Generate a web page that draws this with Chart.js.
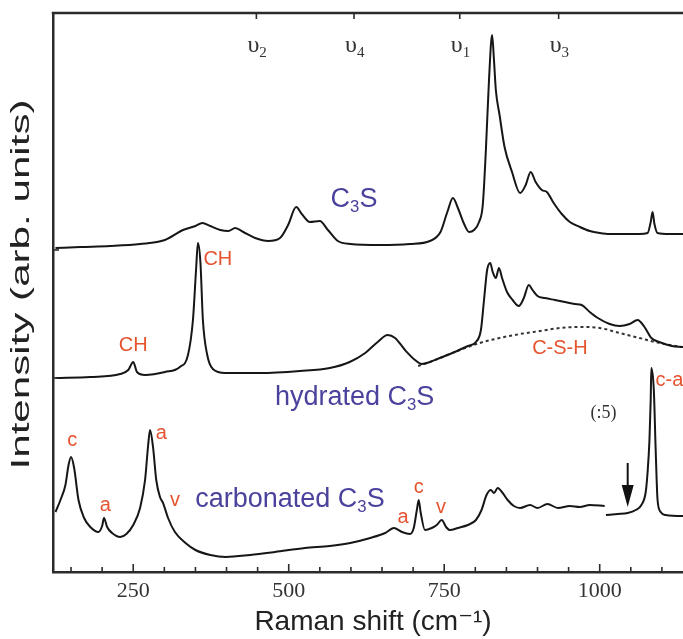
<!DOCTYPE html>
<html>
<head>
<meta charset="utf-8">
<script src="https://cdn.jsdelivr.net/npm/chart.js@4.4.1/dist/chart.umd.min.js"></script>
<style>
  html, body { margin: 0; padding: 0; background: #fff; overflow: hidden; }
  #wrap { width: 700px; height: 639px; }
</style>
</head>
<body>
<div id="wrap"><canvas id="raman" width="700" height="639"></canvas></div>
<script>
// Raman spectra of C3S, hydrated C3S and carbonated C3S (curves offset vertically)
const c3sShift = [125,165,213,261,301,330,350,361,374,390,403,414,427,446,467,486,499,512,521,534,550,563,579,599,647,695,727,744,755,764,772,782,790,798,806,812,817,822,827,830,833,839,847,859,872,881,889,897,907,915,926,939,952,968,984,1000,1016,1064,1077,1082,1085,1088,1093,1112,1150];
const c3sIntensity = [324,325,326,328,332,342,346,349,346,342,341,344,340,334,331,334,347,365,358,350,351,342,331,328,327,328,331,340,360,374,364,348,340,342,350,367,422,492,537,512,482,457,425,400,379,387,400,390,382,380,369,358,350,345,341,339,338,338,339,350,360,348,339,338,338];

const hydratedShift = [125,181,229,242,250,256,269,301,325,338,346,351,354,358,362,369,378,398,454,518,566,598,623,643,659,671,687,703,714,727,743,767,788,801,809,814,819,824,828,833,838,843,851,860,870,878,886,892,900,912,928,944,960,971,984,997,1016,1032,1048,1061,1072,1083,1100,1116,1133,1150];
const hydratedIntensity = [194,195,198,202,210,200,197,200,205,217,252,302,329,310,252,217,203,199,199,201,204,210,219,230,237,234,222,212,208,210,214,220,226,230,242,272,302,309,300,294,304,294,280,272,266,274,287,282,276,274,272,270,268,267,260,254,248,246,248,252,245,234,229,226,225,224];

// C-S-H background (dotted)
const cshShift = [708,727,751,775,807,839,872,904,936,968,1000,1032,1064,1096,1133,1150];
const cshIntensity = [206,210,216,222,229,234,238,241,244,245,244,239,234,229,225,224];

// carbonated C3S; the part beyond the break is scaled down (:5)
const carbShift = [125,133,141,146,150,155,162,171,181,194,200,203,208,216,229,239,250,261,269,274,277,282,287,293,298,306,317,334,350,374,399,438,478,526,566,599,631,655,669,682,695,701,706,709,712,719,730,738,746,753,759,772,788,801,810,818,825,830,836,844,852,862,872,888,900,916,933,952,968,984,1008,1009,1010,1029,1045,1058,1067,1074,1077,1080,1082,1083,1087,1090,1093,1098,1106,1133,1150];
const carbIntensity = [60,72,87,107,115,104,72,54,45,40,46,54,45,39,35,38,47,64,92,127,142,124,92,75,69,54,40,29,22,17,15,17,20,24,26,29,34,39,44,40,38,44,62,72,60,42,44,47,52,45,42,44,47,52,62,77,82,79,84,79,72,66,64,67,64,68,64,66,65,67,66,null,57,58,59,62,67,80,100,132,172,204,182,122,72,60,57,56,56];

// x-axis range and tick labels
const shiftMin = 121, shiftMax = 1150;
const majorStep = 250, minorStep = 50;

// silicate band positions on the top axis
const bandShift = [448, 605, 775, 934];
const bandIndex = ['2', '4', '1', '3'];

// baseline marks on the intensity axis
const baselineMarks = [194, 322];

// sample names
const nameText = ['C3S', 'hydrated C3S', 'carbonated C3S'];
const nameShift = [605, 606, 502];
const nameLevel = [372, 174, 72];

// phase assignments
const tagText  = ['CH', 'CH', 'C-S-H', 'c-a', 'c', 'a', 'a', 'v', 'a', 'c', 'v'];
const tagShift = [386, 250, 936, 1112, 152, 205, 295, 317, 684, 709, 745];
const tagLevel = [313, 227, 224, 192, 132, 67, 139, 72, 55, 85, 65];

const pair = (xs, ys) => xs.map((x, i) => ({ x: x, y: ys[i] }));

const INK = '#161616';
const RED = '#e5532f';
const BLUE = '#4a429c';
const SANS = '"Liberation Sans", Arial, "DejaVu Sans", sans-serif';
const SERIF = '"Liberation Serif", "Times New Roman", "DejaVu Serif", serif';

function richText(ctx, text, cx, cy, size, color) {
  const parts = text.split(/(\d)/).filter(s => s.length);
  const sub = size * 0.62;
  ctx.fillStyle = color;
  ctx.textBaseline = 'middle';
  ctx.textAlign = 'left';
  let w = 0;
  parts.forEach(p => {
    ctx.font = (/^\d$/.test(p) ? sub : size) + 'px ' + SANS;
    w += ctx.measureText(p).width;
  });
  let x = cx - w / 2;
  parts.forEach(p => {
    const isSub = /^\d$/.test(p);
    ctx.font = (isSub ? sub : size) + 'px ' + SANS;
    ctx.fillText(p, x, isSub ? cy + size * 0.28 : cy);
    x += ctx.measureText(p).width;
  });
}

const annotations = {
  id: 'annotations',
  afterDraw(chart) {
    const { ctx, chartArea: a, scales: { x, y } } = chart;
    ctx.save();
    ctx.strokeStyle = '#2b2b2b';
    ctx.lineCap = 'butt';

    // top frame line
    ctx.lineWidth = 2.5;
    ctx.beginPath();
    ctx.moveTo(a.left - 1.25, a.top);
    ctx.lineTo(a.right, a.top);
    ctx.stroke();

    // inward ticks on the bottom axis
    ctx.lineWidth = 1.6;
    x.ticks.forEach(t => {
      const px = x.getPixelForValue(t.value);
      const len = t.value % majorStep === 0 ? 8 : 5;
      ctx.beginPath();
      ctx.moveTo(px, a.bottom);
      ctx.lineTo(px, a.bottom - len);
      ctx.stroke();
    });

    // inward ticks on the intensity axis
    y.ticks.forEach(t => {
      const py = y.getPixelForValue(t.value);
      ctx.beginPath();
      ctx.moveTo(a.left, py);
      ctx.lineTo(a.left + 6, py);
      ctx.stroke();
    });

    // band marks on the top axis
    bandShift.forEach((v, i) => {
      const px = x.getPixelForValue(v);
      ctx.beginPath();
      ctx.moveTo(px, a.top);
      ctx.lineTo(px, a.top + 6);
      ctx.stroke();
      ctx.fillStyle = '#333';
      ctx.textBaseline = 'alphabetic';
      ctx.textAlign = 'left';
      ctx.font = '24px ' + SERIF;
      const w = ctx.measureText('\u03C5').width;
      ctx.fillText('\u03C5', px - w / 2 - 3, a.top + 39);
      ctx.font = '15px ' + SERIF;
      ctx.fillText(bandIndex[i], px + w / 2 - 3, a.top + 44);
    });

    // sample names
    nameText.forEach((t, i) => {
      richText(ctx, t, x.getPixelForValue(nameShift[i]), y.getPixelForValue(nameLevel[i]), 27, BLUE);
    });

    // phase assignments
    ctx.font = '20px ' + SANS;
    ctx.fillStyle = RED;
    ctx.textAlign = 'center';
    ctx.textBaseline = 'middle';
    tagText.forEach((t, i) => {
      ctx.fillText(t, x.getPixelForValue(tagShift[i]), y.getPixelForValue(tagLevel[i]));
    });

    // scale factor of the calcite band
    ctx.font = '18px ' + SERIF;
    ctx.fillStyle = '#333';
    ctx.fillText('(:5)', x.getPixelForValue(1006), y.getPixelForValue(159));

    // arrow at the break
    const ax = x.getPixelForValue(1045);
    const y0 = y.getPixelForValue(109), y1 = y.getPixelForValue(65);
    ctx.strokeStyle = '#111';
    ctx.fillStyle = '#111';
    ctx.lineWidth = 2;
    ctx.beginPath();
    ctx.moveTo(ax, y0);
    ctx.lineTo(ax, y1 - 18);
    ctx.stroke();
    ctx.beginPath();
    ctx.moveTo(ax - 6, y1 - 22);
    ctx.lineTo(ax + 6, y1 - 22);
    ctx.lineTo(ax, y1);
    ctx.closePath();
    ctx.fill();

    // intensity axis title
    ctx.save();
    ctx.translate(22, (a.top + a.bottom) / 2 - 8);
    ctx.rotate(-Math.PI / 2);
    ctx.font = '25px ' + SANS;
    const title = 'Intensity (arb. units)';
    const tw = ctx.measureText(title).width;
    ctx.scale(370 / tw, 1);
    ctx.fillStyle = '#222';
    ctx.textAlign = 'center';
    ctx.textBaseline = 'middle';
    ctx.fillText(title, 0, 0);
    ctx.restore();

    ctx.restore();
  }
};

const lineStyle = { borderColor: INK, borderWidth: 2, pointRadius: 0, cubicInterpolationMode: 'monotone', fill: false, spanGaps: false };

new Chart(document.getElementById('raman'), {
  type: 'line',
  data: {
    datasets: [
      Object.assign({ label: 'C3S', data: pair(c3sShift, c3sIntensity) }, lineStyle),
      Object.assign({ label: 'hydrated C3S', data: pair(hydratedShift, hydratedIntensity) }, lineStyle),
      { label: 'C-S-H', data: pair(cshShift, cshIntensity), borderColor: '#333', borderWidth: 2, borderDash: [3, 3], pointRadius: 0, cubicInterpolationMode: 'monotone', fill: false },
      Object.assign({ label: 'carbonated C3S', data: pair(carbShift, carbIntensity) }, lineStyle)
    ]
  },
  options: {
    responsive: false,
    animation: false,
    devicePixelRatio: 1,
    layout: { padding: { top: 13, right: 7, left: 0, bottom: 0 } },
    plugins: { legend: { display: false }, tooltip: { enabled: false } },
    scales: {
      x: {
        type: 'linear',
        position: 'bottom',
        min: shiftMin,
        max: shiftMax,
        border: { display: true, color: '#2b2b2b', width: 2.5 },
        grid: { display: false, drawTicks: false },
        ticks: {
          stepSize: minorStep,
          includeBounds: false,
          autoSkip: false,
          maxRotation: 0,
          padding: 6,
          color: '#333',
          font: { family: SERIF, size: 22 },
          callback: v => (v % majorStep === 0 ? String(v) : '')
        },
        title: {
          display: true,
          text: 'Raman shift (cm\u207B\u00B9)',
          color: '#222',
          font: { family: SANS, size: 28 },
          padding: { top: 0, bottom: 0 }
        },
        afterFit: s => { s.height = 67; }
      },
      y: {
        type: 'linear',
        min: 0,
        max: 559,
        border: { display: true, color: '#2b2b2b', width: 2.5 },
        grid: { display: false, drawTicks: false },
        ticks: { display: false },
        afterBuildTicks: s => { s.ticks = baselineMarks.map(v => ({ value: v })); },
        afterFit: s => { s.width = 53; }
      }
    }
  },
  plugins: [annotations]
});
</script>
</body>
</html>
